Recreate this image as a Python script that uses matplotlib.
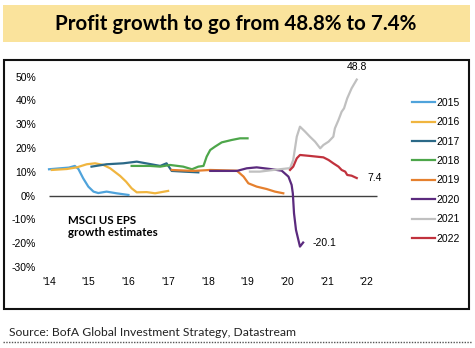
import matplotlib
matplotlib.use("Agg")
import matplotlib.pyplot as plt
from matplotlib.patches import Rectangle
from matplotlib.lines import Line2D

# estimate vintages: x = decimal year, y = expected EPS growth (%)
x2015 = [2014.0, 2014.28, 2014.5, 2014.65, 2014.74, 2014.86, 2014.99, 2015.12, 2015.24, 2015.45, 2015.7, 2016.0]
y2015 = [11.1, 11.5, 11.8, 12.5, 11.2, 7.3, 3.8, 1.7, 1.1, 1.7, 1.0, 0.3]

x2016 = [2014.07, 2014.45, 2014.7, 2014.95, 2015.16, 2015.37, 2015.54, 2015.79, 2015.94, 2016.08, 2016.21, 2016.46, 2016.67, 2017.0]
y2016 = [10.8, 11.2, 11.9, 13.2, 13.6, 12.9, 11.5, 8.3, 5.9, 3.1, 1.4, 1.5, 1.0, 2.0]

x2017 = [2015.07, 2015.45, 2015.87, 2016.21, 2016.54, 2016.8, 2016.96, 2017.09, 2017.4, 2017.76]
y2017 = [12.2, 13.2, 13.6, 14.3, 13.3, 12.5, 13.6, 10.4, 10.1, 9.8]

x2018 = [2016.08, 2016.54, 2016.8, 2017.05, 2017.38, 2017.6, 2017.76, 2017.89, 2017.97, 2018.06, 2018.18, 2018.35, 2018.6, 2018.81, 2019.0]
y2018 = [12.5, 12.5, 12.2, 12.9, 12.2, 11.1, 12.2, 12.5, 16.4, 19.2, 20.6, 22.4, 23.4, 24.1, 24.1]

x2019 = [2017.09, 2017.63, 2018.06, 2018.73, 2018.9, 2019.02, 2019.23, 2019.48, 2019.69, 2019.9]
y2019 = [10.8, 10.4, 10.8, 10.5, 8.0, 5.2, 3.8, 2.8, 1.7, 1.0]

x2020 = [2018.06, 2018.73, 2018.98, 2019.23, 2019.57, 2019.86, 2020.03, 2020.11, 2020.14, 2020.17, 2020.22, 2020.28, 2020.32, 2020.4]
y2020 = [10.4, 10.4, 11.5, 11.9, 11.2, 10.5, 8.0, 4.5, 1.0, -7.4, -14.4, -18.6, -21.4, -19.7]

x2021 = [2019.06, 2019.31, 2019.65, 2020.03, 2020.07, 2020.15, 2020.24, 2020.32, 2020.45, 2020.57, 2020.7, 2020.83,
         2020.91, 2021.04, 2021.16, 2021.2, 2021.29, 2021.37, 2021.43, 2021.51, 2021.62, 2021.75]
y2021 = [10.1, 10.1, 10.8, 11.5, 11.5, 15.0, 24.8, 29.0, 26.9, 24.8, 22.7, 19.9,
         21.3, 22.7, 24.8, 28.3, 31.8, 35.3, 36.7, 40.9, 45.1, 48.8]

x2022 = [2020.07, 2020.15, 2020.24, 2020.32, 2020.57, 2020.74, 2020.91, 2021.04, 2021.16, 2021.29, 2021.37, 2021.46,
         2021.51, 2021.62, 2021.75]
y2022 = [10.8, 12.2, 15.7, 17.1, 16.7, 16.4, 16.1, 15.0, 13.6, 12.2, 10.8, 10.1, 8.7, 8.4, 7.4]

series = [
    ("2015", x2015, y2015, "#4FA3DB"),
    ("2016", x2016, y2016, "#F0B53F"),
    ("2017", x2017, y2017, "#2B6987"),
    ("2018", x2018, y2018, "#4DA64A"),
    ("2019", x2019, y2019, "#E5802E"),
    ("2020", x2020, y2020, "#5B2A7E"),
    ("2021", x2021, y2021, "#C0C0C0"),
    ("2022", x2022, y2022, "#C1323D"),
]

year_ticks = [2014, 2015, 2016, 2017, 2018, 2019, 2020, 2021, 2022]
year_labels = ["'14", "'15", "'16", "'17", "'18", "'19", "'20", "'21", "'22"]
pct_ticks = [-30, -20, -10, 0, 10, 20, 30, 40, 50]

W, H = 475, 348
fig = plt.figure(figsize=(W / 100, H / 100), dpi=100)
ax = fig.add_axes([0.0823, 0.2121, 0.7398, 0.6017])
ax.set_xlim(2013.75, 2022.6)
ax.set_ylim(-33, 55)

ax.hlines(0, 2014.0, 2022.25, color="#404040", lw=1.0, zorder=1)
for label, xs, ys, c in series:
    ax.plot(xs, ys, color=c, lw=1.6, label=label, zorder=2)

ax.annotate("48.8", (x2021[-1], y2021[-1]), xytext=(0, 9), textcoords="offset points",
            ha="center", va="center", fontsize=7.5, family="Liberation Sans")
ax.annotate("7.4", (x2022[-1], y2022[-1]), xytext=(8, 0), textcoords="offset points",
            ha="left", va="center", fontsize=7.5, family="Liberation Sans")
ax.annotate("-20.1", (x2020[-1], y2020[-1]), xytext=(7, 0), textcoords="offset points",
            ha="left", va="center", fontsize=7.5, family="Liberation Sans")

ax.set_xticks(year_ticks, year_labels)
ax.set_yticks(pct_ticks, [f"{v}%" for v in pct_ticks])
ax.tick_params(axis="x", length=0, pad=1.8, labelsize=7.5)
ax.tick_params(axis="y", length=0, pad=2.2, labelsize=7.5)
for t in ax.get_xticklabels() + ax.get_yticklabels():
    t.set_family("Liberation Sans")
for s in ax.spines.values():
    s.set_visible(False)

leg = ax.legend(loc="upper left", bbox_to_anchor=(412 / W, 1 - 98 / H), bbox_transform=fig.transFigure,
                frameon=False, handlelength=2.2, handletextpad=0.1,
                labelspacing=0.9, borderpad=0, borderaxespad=0,
                prop={"family": "Liberation Sans", "size": 7.5})

fig.text(68 / W, 1 - 226.5 / H, "MSCI US EPS\ngrowth estimates", ha="left", va="center",
         fontsize=8.3, fontweight="bold", family="Lato", linespacing=1.15)

# header band, frame, footer
fig.patches.append(Rectangle((3 / W, 1 - 42 / H), 467 / W, 37 / H, transform=fig.transFigure,
                             facecolor="#FAE39C", edgecolor="none", zorder=0))
fig.text(236 / W, 1 - 23.5 / H, "Profit growth to go from 48.8% to 7.4%", ha="center", va="center",
         fontsize=14.8, fontweight="bold", family="Lato")
fig.patches.append(Rectangle((4 / W, 1 - 309 / H), 465 / W, 249 / H, transform=fig.transFigure,
                             fill=False, edgecolor="#111111", lw=1.5))
fig.text(9 / W, 1 - 332 / H, "Source: BofA Global Investment Strategy, Datastream", ha="left", va="center",
         fontsize=8.7, family="Lato", color="#222222")
fig.lines.append(Line2D([3 / W, 472 / W], [1 - 342 / H] * 2, transform=fig.transFigure,
                        color="#555555", lw=1.0, linestyle=(0, (1, 1))))

fig.savefig("out.png", dpi=100)
